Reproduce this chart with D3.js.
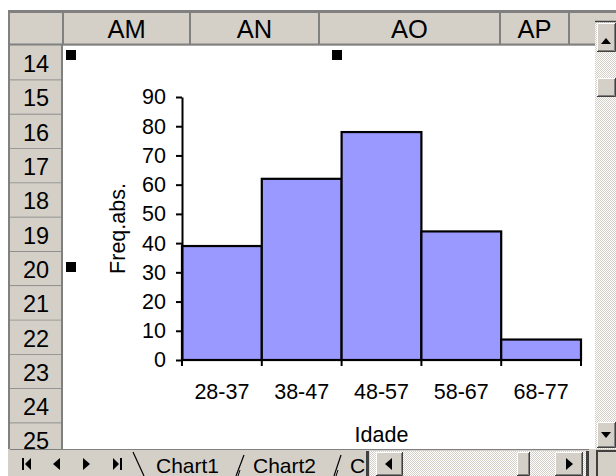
<!DOCTYPE html>
<html><head><meta charset="utf-8">
<script src="https://cdn.jsdelivr.net/npm/d3@7"></script>
<style>html,body{margin:0;padding:0;background:#fff;}svg{display:block;}text{font-family:"Liberation Sans",Arial,sans-serif;}</style>
</head><body>
<svg id="c" width="616" height="476"></svg>
<script>
const categories = ["28-37","38-47","48-57","58-67","68-77"];
const values = [39, 62, 78, 44, 7];
const yTicks = [0,10,20,30,40,50,60,70,80,90];
const columns = ["AM","AN","AO","AP"];
const columnEdges = [63,190,319,500,569];
const rowLabels = ["14","15","16","17","18","19","20","21","22","23","24","25"];
const sheetTabs = ["Chart1","Chart2","C"];

const svg = d3.select("#c");
const GRAY = "#D4D0C8", DARK = "#808080";
const AX_FONT = 21.5;

const defs = svg.append("defs");
const pat = defs.append("pattern").attr("id","chk").attr("width",2).attr("height",2).attr("patternUnits","userSpaceOnUse");
pat.append("rect").attr("width",2).attr("height",2).attr("fill","#fff");
pat.append("rect").attr("width",1).attr("height",1).attr("fill",GRAY);
pat.append("rect").attr("x",1).attr("y",1).attr("width",1).attr("height",1).attr("fill",GRAY);
defs.append("clipPath").attr("id","rowclip").append("rect").attr("x",0).attr("y",46).attr("width",616).attr("height",403);

function btn(x,y,w,h){
  const g = svg.append("g");
  g.append("rect").attr("x",x).attr("y",y).attr("width",w).attr("height",h).attr("fill",GRAY);
  g.append("path").attr("d",`M${x+0.5},${y+h}V${y+0.5}H${x+w}`).attr("stroke","#fff").attr("fill","none");
  g.append("path").attr("d",`M${x},${y+h-0.5}H${x+w-0.5}V${y}`).attr("stroke","#404040").attr("fill","none");
  g.append("path").attr("d",`M${x+1},${y+h-1.5}H${x+w-1.5}V${y+1}`).attr("stroke",DARK).attr("fill","none");
  return g;
}

svg.append("rect").attr("x",8).attr("y",10).attr("width",608).attr("height",466).attr("fill",DARK);
svg.append("rect").attr("x",10).attr("y",13).attr("width",606).attr("height",463).attr("fill",GRAY);

svg.append("rect").attr("x",10).attr("y",13).attr("width",585).attr("height",31).attr("fill",GRAY);
svg.append("line").attr("x1",10).attr("x2",595).attr("y1",44.5).attr("y2",44.5).attr("stroke",DARK).attr("stroke-width",2);
columnEdges.forEach(x=>{
  svg.append("line").attr("x1",x).attr("x2",x).attr("y1",13).attr("y2",45).attr("stroke",DARK).attr("stroke-width",2);
});
columns.forEach((c,i)=>{
  svg.append("text").attr("x",(columnEdges[i]+columnEdges[i+1])/2).attr("y",38)
    .attr("text-anchor","middle").attr("font-size",25.5).attr("fill","#000").text(c);
});

svg.append("rect").attr("x",63).attr("y",46).attr("width",532).attr("height",403).attr("fill","#fff");

const rowH = 34.3;
const rg = svg.append("g").attr("clip-path","url(#rowclip)");
rowLabels.forEach((r,i)=>{
  const y0 = 46 + i*rowH;
  rg.append("rect").attr("x",10).attr("y",y0).attr("width",52).attr("height",rowH).attr("fill",GRAY);
  rg.append("line").attr("x1",10).attr("x2",62).attr("y1",y0+rowH).attr("y2",y0+rowH).attr("stroke",DARK).attr("stroke-width",1.5);
  rg.append("text").attr("x",36).attr("y",y0+rowH/2+9).attr("text-anchor","middle").attr("font-size",23.5).attr("fill","#000").text(r);
});
svg.append("line").attr("x1",62).attr("x2",62).attr("y1",44).attr("y2",449).attr("stroke",DARK).attr("stroke-width",2);

[[66,50],[332,50],[66,262]].forEach(([x,y])=>{
  svg.append("rect").attr("x",x).attr("y",y).attr("width",10).attr("height",10).attr("fill","#000");
});

// ---- chart ----
const x = d3.scaleBand().domain(categories).range([182,581]).padding(0);
const y = d3.scaleLinear().domain([0,90]).range([360,97]);
const chart = svg.append("g");

chart.selectAll("rect.bar").data(values).join("rect").attr("class","bar")
  .attr("x",(d,i)=>x(categories[i])).attr("y",d=>y(d))
  .attr("width",x.bandwidth()).attr("height",d=>y(0)-y(d))
  .attr("fill","#9999FF").attr("stroke","#000").attr("stroke-width",2.2);

const yAxis = chart.append("g").attr("transform",`translate(${x.range()[0]},0)`)
  .call(d3.axisLeft(y).tickValues(yTicks).tickSize(6).tickPadding(10).tickSizeOuter(0));
yAxis.select(".domain").attr("stroke","#000").attr("stroke-width",2);
yAxis.selectAll(".tick line").attr("stroke","#000").attr("stroke-width",2);
yAxis.selectAll(".tick text").attr("font-size",AX_FONT).attr("font-family","Liberation Sans, Arial, sans-serif").attr("fill","#000");

const xTickPos = categories.map(c=>x(c)).concat([x.range()[1]]);
const xAxis = chart.append("g");
xAxis.append("line").attr("x1",x.range()[0]).attr("x2",x.range()[1]).attr("y1",y(0)).attr("y2",y(0)).attr("stroke","#000").attr("stroke-width",2);
xAxis.selectAll("line.t").data(xTickPos).join("line").attr("class","t")
  .attr("x1",d=>d).attr("x2",d=>d).attr("y1",y(0)).attr("y2",y(0)+6).attr("stroke","#000").attr("stroke-width",2);
xAxis.selectAll("text").data(categories).join("text")
  .attr("x",d=>x(d)+x.bandwidth()/2).attr("y",399).attr("text-anchor","middle")
  .attr("font-size",AX_FONT).attr("fill","#000").text(d=>d);

chart.append("text").attr("x",(x.range()[0]+x.range()[1])/2).attr("y",442).attr("text-anchor","middle")
  .attr("font-size",AX_FONT).attr("fill","#000").text("Idade");
chart.append("text").attr("transform",`translate(125,${(y(0)+y(90))/2}) rotate(-90)`)
  .attr("text-anchor","middle").attr("font-size",AX_FONT).attr("fill","#000").text("Freq.abs.");

// ---- vertical scrollbar ----
svg.append("rect").attr("x",595).attr("y",13).attr("width",21).attr("height",436).attr("fill","url(#chk)");
svg.append("rect").attr("x",595).attr("y",13).attr("width",21).attr("height",8).attr("fill",GRAY);
svg.append("line").attr("x1",595).attr("x2",616).attr("y1",21.5).attr("y2",21.5).attr("stroke","#404040").attr("stroke-width",1.5);
btn(597,23,19,29);
svg.append("path").attr("d","M601,44L611,44L606,38Z").attr("fill","#000");
btn(597,78,19,19);
btn(597,422,19,26);
svg.append("path").attr("d","M601,432L611,432L606,438Z").attr("fill","#000");

// ---- bottom bar ----
svg.append("rect").attr("x",8).attr("y",449).attr("width",608).attr("height",27).attr("fill",GRAY);
svg.append("line").attr("x1",10).attr("x2",595).attr("y1",449.5).attr("y2",449.5).attr("stroke",DARK).attr("stroke-width",1);
const ny = 464;
svg.append("rect").attr("x",22).attr("y",ny-6).attr("width",2).attr("height",12).attr("fill","#000");
svg.append("path").attr("d",`M25,${ny}L31,${ny-6}L31,${ny+6}Z`).attr("fill","#000");
svg.append("path").attr("d",`M53,${ny}L60,${ny-6}L60,${ny+6}Z`).attr("fill","#000");
svg.append("path").attr("d",`M90,${ny}L83,${ny-6}L83,${ny+6}Z`).attr("fill","#000");
svg.append("path").attr("d",`M113,${ny-6}L119,${ny}L113,${ny+6}Z`).attr("fill","#000");
svg.append("rect").attr("x",120).attr("y",ny-6).attr("width",2).attr("height",12).attr("fill","#000");
svg.append("line").attr("x1",133).attr("y1",452).attr("x2",144).attr("y2",476).attr("stroke","#000").attr("stroke-width",1.2);
const tabX = [156,253,350];
sheetTabs.forEach((t,i)=>{
  svg.append("text").attr("x",tabX[i]).attr("y",473).attr("font-size",21).attr("fill","#000").text(t);
});
[[236,244],[334,341]].forEach(([a,b])=>{
  svg.append("line").attr("x1",a).attr("y1",476).attr("x2",b).attr("y2",455).attr("stroke","#000").attr("stroke-width",1.2);
  svg.append("line").attr("x1",a+2).attr("y1",476).attr("x2",a+4).attr("y2",470).attr("stroke","#000").attr("stroke-width",1);
});
svg.append("rect").attr("x",366).attr("y",451).attr("width",3).attr("height",25).attr("fill","#404040");
svg.append("rect").attr("x",370).attr("y",451).attr("width",217).attr("height",25).attr("fill","url(#chk)");
btn(376,452,27,24);
svg.append("path").attr("d","M385,464L392,458L392,470Z").attr("fill","#000");
btn(517,452,13,24);
btn(555,452,28,24);
svg.append("path").attr("d","M573,464L566,458L566,470Z").attr("fill","#000");
svg.append("rect").attr("x",586).attr("y",451).attr("width",3).attr("height",25).attr("fill","#404040");
svg.append("rect").attr("x",589).attr("y",449).attr("width",27).attr("height",27).attr("fill",GRAY);
svg.append("path").attr("d","M597,476V451H616").attr("stroke","#404040").attr("stroke-width",2).attr("fill","none");
</script>
</body></html>
